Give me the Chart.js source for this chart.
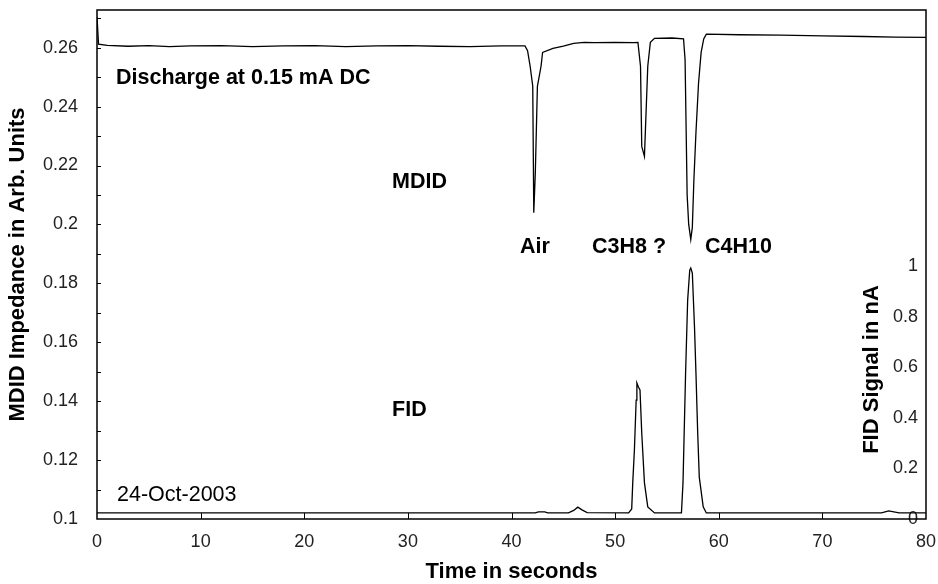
<!DOCTYPE html>
<html>
<head>
<meta charset="utf-8">
<script src="https://cdn.jsdelivr.net/npm/chart.js@4"></script>
<style>
  html, body { margin: 0; padding: 0; background: #fff; }
  #wrap { width: 938px; height: 584px; }
</style>
</head>
<body>
<div id="wrap"><canvas id="chrom"></canvas></div>
<script>
// MDID trace (left axis, arb. units)
let mdidTime = [0, 0.15, 1, 3, 5, 7, 9, 12, 15, 18, 21, 24, 27, 30, 33, 36, 39, 41.3,
  41.55, 41.8, 42.05, 42.15, 42.3, 42.5, 42.85, 43.0, 44, 45, 46, 47, 48, 50, 51.8,
  52.2, 52.45, 52.57, 52.83, 53.15, 53.4, 53.8, 55.5, 56.6,
  56.75, 56.95, 57.1, 57.3, 57.45, 57.6, 57.8, 58.05, 58.3, 58.55, 58.8,
  62, 66, 70, 74, 77, 80];
let mdidValues = [0.2705, 0.2612, 0.2608, 0.2605, 0.2607, 0.2604, 0.2606, 0.2607, 0.2604, 0.2606, 0.2607, 0.2604, 0.2606, 0.2607, 0.2605, 0.2604, 0.2606, 0.2606,
  0.2590, 0.2537, 0.2469, 0.2040, 0.2177, 0.2469, 0.2537, 0.2584, 0.2598, 0.2605, 0.2615, 0.2618, 0.2617, 0.2618, 0.2617,
  0.2618, 0.2537, 0.2265, 0.2231, 0.2537, 0.2618, 0.2632, 0.2633, 0.2630,
  0.2560, 0.2100, 0.2000, 0.1949, 0.1990, 0.2150, 0.2312, 0.2480, 0.2584, 0.2630, 0.2646,
  0.2644, 0.2643, 0.2640, 0.2638, 0.2636, 0.2635];

// FID trace (right axis, nA)
let fidTime = [0, 42.3, 42.6, 43.2, 43.5, 45.5, 46.0, 46.4, 46.8, 47.3, 51.3, 51.6, 51.7, 51.86, 52.03,
  52.1, 52.25, 52.4, 52.57, 52.83, 53.15, 53.8, 56.4, 56.55, 56.8, 57.0, 57.2, 57.3, 57.45,
  57.66, 57.8, 57.97, 58.12, 58.5, 58.8, 75.7, 76.4, 77.4, 80];
let fidValues = [0.024, 0.024, 0.028, 0.028, 0.024, 0.024, 0.034, 0.047, 0.036, 0.025, 0.024, 0.040, 0.143, 0.273, 0.471,
  0.539, 0.523, 0.511, 0.340, 0.143, 0.048, 0.024, 0.024, 0.143, 0.578, 0.867, 0.986, 0.994, 0.974,
  0.760, 0.578, 0.340, 0.166, 0.048, 0.024, 0.024, 0.032, 0.024, 0.024];

let mdidTicks = [0.1, 0.12, 0.14, 0.16, 0.18, 0.2, 0.22, 0.24, 0.26];
let fidTicks = [0, 0.2, 0.4, 0.6, 0.8, 1];
let timeTicks = [0, 10, 20, 30, 40, 50, 60, 70, 80];

// text labels placed in data coordinates (time, left axis value)
let notes = [
  { text: "Discharge at 0.15 mA DC", t: 1.83, v: 0.2497, bold: true },
  { text: "MDID", t: 28.47, v: 0.2144, bold: true },
  { text: "Air", t: 40.82, v: 0.1923, bold: true },
  { text: "C3H8 ?", t: 47.77, v: 0.1923, bold: true },
  { text: "C4H10", t: 58.67, v: 0.1923, bold: true },
  { text: "FID", t: 28.47, v: 0.137, bold: true },
  { text: "24-Oct-2003", t: 1.93, v: 0.1081, bold: false }
];

const FONT = '"Liberation Sans", Arial, sans-serif';

let mdidPoints = mdidTime.map((t, i) => ({ x: t, y: mdidValues[i] }));
let fidPoints = fidTime.map((t, i) => ({ x: t, y: fidValues[i] }));

function plainLabel(v) {
  return String(Math.round(v * 1000) / 1000);
}

// drop the padding Chart.js adds for half tick labels, we place things by hand
function noPad(s) {
  s.paddingTop = 0;
  s.paddingBottom = 0;
  s.paddingLeft = 0;
  s.paddingRight = 0;
}

// frame, inward tick marks, labels and the right axis title
const extras = {
  id: "extras",
  afterDraw(chart) {
    const c = chart.ctx;
    const a = chart.chartArea;
    const sx = chart.scales.x, sy = chart.scales.y;
    c.save();
    c.strokeStyle = "#000";
    c.lineWidth = 1.5;
    c.strokeRect(a.left, a.top, a.right - a.left, a.bottom - a.top);

    c.lineWidth = 1;
    c.beginPath();
    timeTicks.slice(1, -1).forEach(t => {
      let px = Math.round(sx.getPixelForValue(t)) + 0.5;
      c.moveTo(px, a.bottom);
      c.lineTo(px, a.bottom - 6);
    });
    for (let v = 0.11; v < sy.max; v += 0.01) {
      let py = Math.round(sy.getPixelForValue(v)) + 0.5;
      c.moveTo(a.left, py);
      c.lineTo(a.left + 4, py);
    }
    c.stroke();

    c.fillStyle = "#000";
    c.textBaseline = "middle";
    c.textAlign = "left";
    notes.forEach(n => {
      c.font = (n.bold ? "bold 21.5px " : "21.5px ") + FONT;
      c.fillText(n.text, sx.getPixelForValue(n.t), sy.getPixelForValue(n.v));
    });

    c.translate(a.right - 54, (a.top + a.bottom) / 2 + 105);
    c.rotate(-Math.PI / 2);
    c.textAlign = "center";
    c.font = "bold 22px " + FONT;
    c.fillText("FID Signal in nA", 0, 0);
    c.restore();
  }
};

new Chart(document.getElementById("chrom"), {
  type: "line",
  data: {
    datasets: [
      { label: "MDID", data: mdidPoints, yAxisID: "y", borderColor: "#000", borderWidth: 1.3, pointRadius: 0, tension: 0 },
      { label: "FID", data: fidPoints, yAxisID: "y1", borderColor: "#000", borderWidth: 1.3, pointRadius: 0, tension: 0 }
    ]
  },
  options: {
    responsive: true,
    maintainAspectRatio: false,
    animation: false,
    layout: { padding: { left: 0, top: 10, right: 12, bottom: 0 } },
    plugins: { legend: { display: false }, tooltip: { enabled: false } },
    scales: {
      x: {
        type: "linear",
        position: "bottom",
        min: 0,
        max: 80,
        afterBuildTicks: s => { s.ticks = timeTicks.map(v => ({ value: v })); },
        afterFit: s => { s.height = 65; noPad(s); },
        grid: { display: false, drawTicks: false },
        border: { display: false },
        ticks: { color: "#222", padding: 12, maxRotation: 0, callback: plainLabel, font: { family: FONT, size: 18 } },
        title: { display: true, text: "Time in seconds", color: "#000", padding: { top: 0, bottom: 1 },
          font: { family: FONT, size: 22, weight: "bold", lineHeight: 1 } }
      },
      y: {
        position: "left",
        min: 0.1,
        max: 0.2728,
        afterBuildTicks: s => { s.ticks = mdidTicks.map(v => ({ value: v })); },
        afterFit: s => { s.width = 97; noPad(s); },
        grid: { display: false, drawTicks: false },
        border: { display: false },
        ticks: { color: "#222", padding: 19, callback: plainLabel, font: { family: FONT, size: 18 } },
        title: { display: true, text: "MDID Impedance in Arb. Units", color: "#000", padding: { top: 7, bottom: 0 },
          font: { family: FONT, size: 22, weight: "bold", lineHeight: 1 } }
      },
      y1: {
        position: "right",
        min: 0,
        max: 2.016,
        afterBuildTicks: s => { s.ticks = fidTicks.map(v => ({ value: v })); },
        afterFit: s => { s.width = 0; noPad(s); },
        grid: { display: false, drawTicks: false },
        border: { display: false },
        ticks: { color: "#222", mirror: true, padding: -8, callback: plainLabel, font: { family: FONT, size: 18 } }
      }
    }
  },
  plugins: [extras]
});
</script>
</body>
</html>
